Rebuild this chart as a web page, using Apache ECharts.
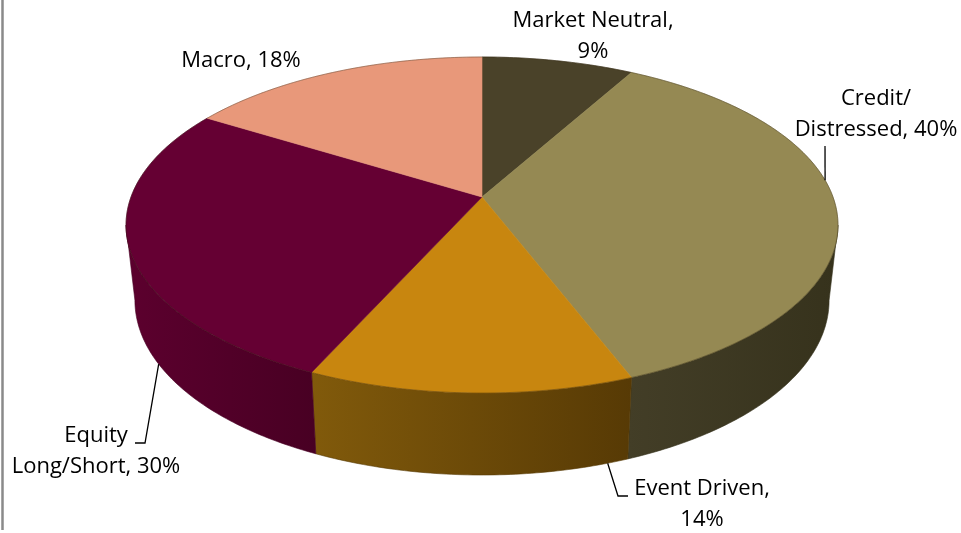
<!DOCTYPE html>
<html>
<head>
<meta charset="utf-8">
<script src="https://cdn.jsdelivr.net/npm/echarts@6/dist/echarts.min.js"></script>
<style>
  html, body { margin: 0; padding: 0; background: #ffffff; }
  #chart { width: 961px; height: 533px; }
</style>
</head>
<body>
<div id="chart"></div>
<script>
// Strategy allocation shown as a tilted 3D pie
const categories = ['Market Neutral', 'Credit/\nDistressed', 'Event Driven', 'Equity\nLong/Short', 'Macro'];
const shares = [9, 40, 14, 30, 18];

// ---- styling and layout ----
const topColors = ['#4a4229', '#958953', '#c8860f', '#650033', '#e8987a'];
const sideColors = [
  ['#3d3822', '#3d3822'],
  ['#433e27', '#36321c'],
  ['#815a0b', '#573a05'],
  ['#5c002e', '#480023'],
  ['#b9765f', '#b9765f']
];
const valueOnNewLine = [true, false, true, false, false];
const labelCenters = [[593, 36], [876, 114], [702, 504], [96, 451], [241, 61]];
const leaders = [
  null,
  { angle: 84, depth: 0, points: [[825, 146]] },
  { angle: 162, depth: 1, points: [[618, 496], [628, 496]] },
  { angle: 240, depth: 1, points: [[145, 443], [135, 443]] },
  null
];

// projection of the disk (perspective tilt)
const CX = 482, APEX_Y = 197, RX = 351, RY = 130.5, PERSP = 0.1667;
const DEPTH = 74, DEPTH_FRONT = 8, SHRINK = 0.975;
const SIDE_FROM = Math.acos(-PERSP) * 180 / Math.PI;   // right silhouette
const SIDE_TO = 360 - SIDE_FROM;                        // left silhouette

function rimPoint(deg, depth) {
  const t = deg * Math.PI / 180, c = Math.cos(t), s = Math.sin(t);
  const w = 1 + PERSP * c;
  const xt = CX + RX * s / w;
  const yt = (APEX_Y - RY * c) / w;
  if (!depth) return [xt, yt];
  const xb = CX + SHRINK * (xt - CX);
  const yb = yt + DEPTH + DEPTH_FRONT * (-c);
  return [xt + (xb - xt) * depth, yt + (yb - yt) * depth];
}

function arc(a, b, depth) {
  const pts = [];
  const n = Math.max(2, Math.ceil(Math.abs(b - a) / 0.75));
  for (let i = 0; i <= n; i++) pts.push(rimPoint(a + (b - a) * i / n, depth));
  return pts;
}

const total = shares.reduce((s, v) => s + v, 0);
const startAngles = [];
shares.reduce((acc, v) => { startAngles.push(acc / total * 360); return acc + v; }, 0);

const chart = echarts.init(document.getElementById('chart'), null, { renderer: 'canvas' });

function renderSlice(params, api) {
  const i = params.dataIndex;
  const value = api.value(0);
  const a = startAngles[i];
  const b = a + value / total * 360;
  const children = [];

  // outer wall (front-facing part only)
  const lo = Math.max(a, SIDE_FROM), hi = Math.min(b, SIDE_TO);
  if (lo < hi) {
    const pts = arc(lo, hi, 0).concat(arc(hi, lo, 1));
    children.push({
      type: 'polygon',
      shape: { points: pts },
      style: {
        fill: new echarts.graphic.LinearGradient(1, 0, 0, 0, [
          { offset: 0, color: sideColors[i][1] },
          { offset: 1, color: sideColors[i][0] }
        ]),
        stroke: sideColors[i][1],
        lineWidth: 0.6
      }
    });
  }

  // top face
  const topPts = [[CX, APEX_Y]].concat(arc(a, b, 0));
  children.push({
    type: 'polygon',
    shape: { points: topPts },
    style: { fill: topColors[i], stroke: topColors[i], lineWidth: 0.6 }
  });
  children.push({
    type: 'polyline',
    shape: { points: arc(a, b, 0) },
    style: { stroke: 'rgba(40,30,10,0.35)', lineWidth: 1, fill: null }
  });

  // leader line
  const ld = leaders[i];
  if (ld) {
    const start = rimPoint(ld.angle, ld.depth);
    const pts = [start].concat(ld.points.map(p => [p[0] === 'x' ? start[0] : p[0], p[1]]));
    children.push({
      type: 'polyline',
      shape: { points: pts },
      style: { stroke: '#000000', lineWidth: 1.3, fill: null }
    });
  }

  // data label
  const name = categories[i];
  const text = name + ',' + (valueOnNewLine[i] ? '\n' : ' ') + value + '%';
  children.push({
    type: 'text',
    x: labelCenters[i][0],
    y: labelCenters[i][1],
    style: {
      text: text,
      fill: '#000000',
      font: '22px "Open Sans", "Noto Sans", sans-serif',
      lineHeight: 31,
      align: 'center',
      verticalAlign: 'middle'
    }
  });

  return { type: 'group', children: children };
}

chart.setOption({
  backgroundColor: '#ffffff',
  animation: false,
  graphic: [{
    type: 'line',
    shape: { x1: 2.5, y1: 0, x2: 2.5, y2: 530 },
    style: { stroke: '#8a8a8a', lineWidth: 2.5 }
  }],
  series: [{
    type: 'custom',
    coordinateSystem: 'none',
    renderItem: renderSlice,
    data: shares.map((v, i) => ({ name: categories[i], value: v }))
  }]
});
</script>
</body>
</html>
